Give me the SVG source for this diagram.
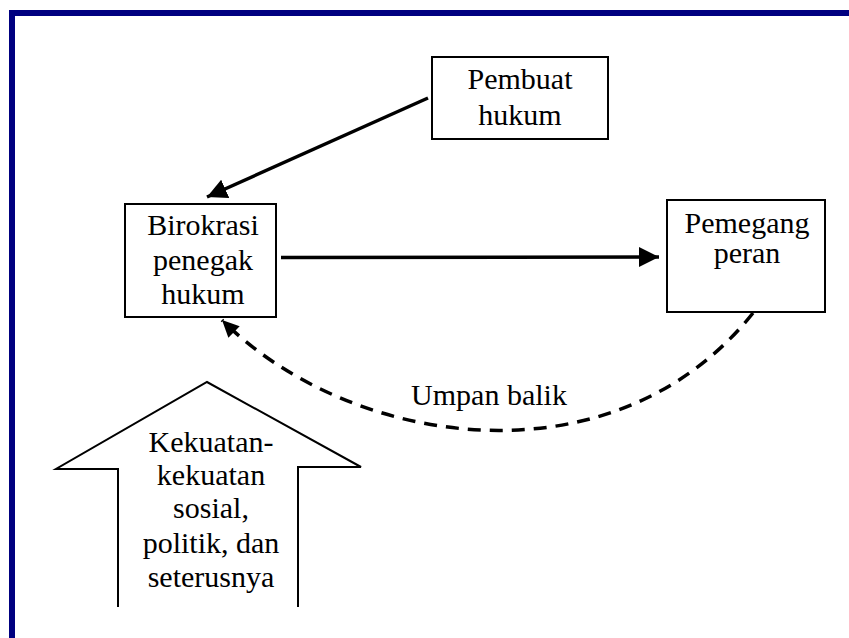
<svg xmlns="http://www.w3.org/2000/svg" width="849" height="638" viewBox="0 0 849 638">
<style>
  .box { fill: #fff; stroke: #000; stroke-width: 2; }
  .t { font-family: "Liberation Serif", "Times New Roman", serif; font-size: 30px; fill: #000; text-anchor: middle; }
  .conn { fill: none; stroke: #000; stroke-width: 3.5; }
  .dash { stroke-dasharray: 13 9; }
</style>
<defs>
  <marker id="ah" markerUnits="userSpaceOnUse" markerWidth="22" markerHeight="22" refX="20" refY="10" orient="auto">
    <path d="M0,0 L20,10 L0,20 z" fill="#000"/>
  </marker>
  <marker id="ahs" markerUnits="userSpaceOnUse" markerWidth="20" markerHeight="20" refX="17" refY="8" orient="auto">
    <path d="M0,0 L17,8 L0,16 z" fill="#000"/>
  </marker>
</defs>
<rect width="849" height="638" fill="#fff"/>
<g id="frame">
  <rect x="9" y="10" width="840" height="6" fill="#000080"/>
  <rect x="9" y="10" width="6" height="628" fill="#000080"/>
</g>
<g id="connectors">
  <line class="conn" x1="428" y1="98" x2="207" y2="197" marker-end="url(#ah)"/>
  <line class="conn" x1="281" y1="257.5" x2="659" y2="257" marker-end="url(#ah)"/>
  <path class="conn dash" d="M753,313 C613,488 350,448 222,320" marker-end="url(#ahs)"/>
  <text class="t" x="489" y="405">Umpan balik</text>
</g>
<g id="pembuat">
  <rect class="box" x="432" y="57" width="176" height="82"/>
  <text class="t" x="520" y="89">Pembuat</text>
  <text class="t" x="520" y="125">hukum</text>
</g>
<g id="birokrasi">
  <rect class="box" x="125" y="204" width="151" height="113"/>
  <text class="t" x="203" y="235">Birokrasi</text>
  <text class="t" x="203" y="270">penegak</text>
  <text class="t" x="203" y="304">hukum</text>
</g>
<g id="pemegang">
  <rect class="box" x="667" y="200" width="158" height="112"/>
  <text class="t" x="747" y="233">Pemegang</text>
  <text class="t" x="747" y="263">peran</text>
</g>
<g id="kekuatan">
  <path d="M118,607 L118,469 L56,469 L207,382 L361,467 L298,467 L298,607" fill="none" stroke="#000" stroke-width="2"/>
  <text class="t" x="211" y="452">Kekuatan-</text>
  <text class="t" x="211" y="485">kekuatan</text>
  <text class="t" x="211" y="518">sosial,</text>
  <text class="t" x="211" y="553">politik, dan</text>
  <text class="t" x="211" y="587">seterusnya</text>
</g>
</svg>
